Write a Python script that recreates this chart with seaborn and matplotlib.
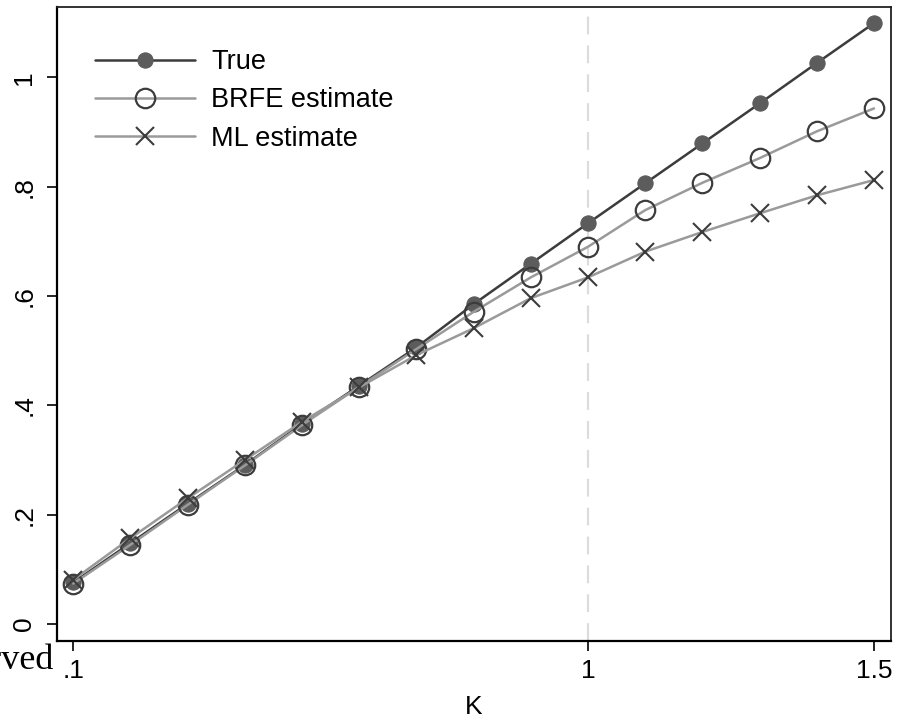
import matplotlib
matplotlib.use("Agg")
import matplotlib.pyplot as plt
import pandas as pd
import seaborn as sns

# values
k_vals = [0.1, 0.2, 0.3, 0.4, 0.5, 0.6, 0.7, 0.8, 0.9, 1.0, 1.1, 1.2, 1.3, 1.4, 1.5]
true_vals = [0.076, 0.148, 0.220, 0.291, 0.366, 0.436, 0.506, 0.585, 0.659, 0.733,
             0.806, 0.879, 0.952, 1.026, 1.099]
brfe_vals = [0.074, 0.145, 0.218, 0.290, 0.364, 0.434, 0.503, 0.571, 0.634, 0.690,
             0.757, 0.807, 0.852, 0.901, 0.943]
ml_vals = [0.081, 0.157, 0.230, 0.300, 0.370, 0.433, 0.492, 0.541, 0.596, 0.634,
           0.681, 0.717, 0.751, 0.784, 0.812]

x_ticks = [0.1, 1, 1.5]
x_tick_labels = [".1", "1", "1.5"]
y_ticks = [0, 0.2, 0.4, 0.6, 0.8, 1]
y_tick_labels = ["0", ".2", ".4", ".6", ".8", "1"]

df = pd.DataFrame({"K": k_vals, "True": true_vals,
                   "BRFE estimate": brfe_vals, "ML estimate": ml_vals})

sns.set_style("white", {"xtick.bottom": True, "ytick.left": True,
                        "text.color": "black", "axes.labelcolor": "black",
                        "xtick.color": "black", "ytick.color": "black"})
plt.rcParams["font.family"] = ["Liberation Sans", "DejaVu Sans"]

W, H = 898, 721
fig = plt.figure(figsize=(W / 100, H / 100), dpi=100)
left, right, top, bottom = 57, 891, 6.7, 640.7
ax = fig.add_axes([left / W, (H - bottom) / H, (right - left) / W, (bottom - top) / H])

# reference line at K = 1
ax.axvline(1, color="#dcdcdc", lw=1.6, dashes=(8, 5), zorder=1)

dark = "#3c3c3c"
light = "#9a9a9a"
sns.lineplot(data=df, x="K", y="True", ax=ax, color=dark, lw=1.8,
             marker="o", markersize=11, markerfacecolor="#5c5c5c",
             markeredgecolor="#5c5c5c", label="True")
sns.lineplot(data=df, x="K", y="BRFE estimate", ax=ax, color=light, lw=1.8,
             marker="o", markersize=14, markerfacecolor="none",
             markeredgecolor=dark, markeredgewidth=1.6, label="BRFE estimate")
sns.lineplot(data=df, x="K", y="ML estimate", ax=ax, color=light, lw=1.8,
             marker="x", markersize=13, markeredgecolor=dark,
             markeredgewidth=1.5, label="ML estimate")

ax.set_xlim(0.0715, 1.5297)
ax.set_ylim(-0.0305, 1.129)
ax.set_xticks(x_ticks)
ax.set_xticklabels(x_tick_labels)
ax.set_yticks(y_ticks)
ax.set_yticklabels(y_tick_labels, rotation=90, va="center")
ax.tick_params(axis="both", direction="out", length=7, width=1.2,
               labelsize=19, color="black", labelcolor="black")
ax.tick_params(axis="y", pad=8)
ax.tick_params(axis="x", pad=6)
ax.set_xlabel("K", fontsize=19, labelpad=9, color="black")
ax.set_ylabel("")

for side in ["left", "bottom"]:
    ax.spines[side].set_linewidth(1.6)
    ax.spines[side].set_color("black")
for side in ["top", "right"]:
    ax.spines[side].set_linewidth(1.3)
    ax.spines[side].set_color("#222222")

leg = ax.legend(loc="upper left", bbox_to_anchor=(0.0456, 0.933), frameon=False,
                fontsize=19.5, handlelength=3.7, handletextpad=0.6, labelspacing=0.45,
                borderaxespad=0, borderpad=0)
for t in leg.get_texts():
    t.set_color("black")

# clipped caption on the left edge
fig.text(54 / W, (H - 669) / H, "Observed", ha="right", va="baseline",
         fontsize=26, color="black", family=["Liberation Serif", "DejaVu Serif"])

fig.savefig("out.png", dpi=100)
